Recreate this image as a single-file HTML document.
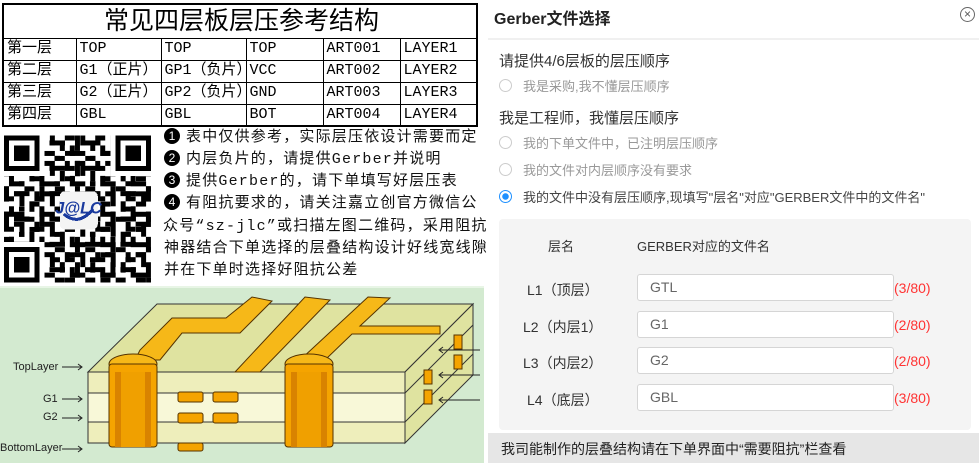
<!DOCTYPE html>
<html><head><meta charset="utf-8"><style>
*{margin:0;padding:0;box-sizing:border-box}
body{width:979px;height:463px;background:#fff;position:relative;overflow:hidden;font-family:"Liberation Sans","Noto Sans CJK SC",sans-serif}
.a{position:absolute;white-space:nowrap}
table{position:absolute;left:2px;top:3px;width:476px;border-collapse:collapse;border:2px solid #000;font-family:"Liberation Mono","Noto Sans CJK SC",monospace;font-size:15px}
td{border:1px solid #000;height:22px;padding-left:3px;line-height:20px}
.note{font-size:15px;color:#111;letter-spacing:1.2px;font-family:"Liberation Mono","Noto Sans CJK SC",monospace}
.ci{display:inline-block;width:16px;height:16px;border-radius:50%;background:#000;color:#fff;font-size:12px;line-height:16px;text-align:center;letter-spacing:0;margin-right:6px;vertical-align:1px;font-family:"Liberation Sans",sans-serif}
.gray{color:#999;font-size:13px}
.rad{position:absolute;width:13px;height:13px;border:1px solid #ccc;border-radius:50%}
.inp{position:absolute;left:637px;width:257px;height:27px;background:#fff;border:1px solid #d5d5d5;border-radius:3px;font-size:14px;color:#666;padding-left:12px;line-height:25px}
.cnt{position:absolute;left:894px;color:#f33;font-size:14px}
.lbl{position:absolute;font-size:14px;color:#333}
</style></head><body>
<table>
<tr><td colspan="6" style="height:34px;text-align:center;font-size:25px;font-family:'Liberation Sans','Noto Sans CJK SC',sans-serif;line-height:30px">常见四层板层压参考结构</td></tr>
<tr><td style="width:73px">第一层</td><td style="width:85px">TOP</td><td style="width:85px">TOP</td><td style="width:77px">TOP</td><td style="width:77px">ART001</td><td>LAYER1</td></tr>
<tr><td>第二层</td><td>G1（正片）</td><td>GP1（负片）</td><td>VCC</td><td>ART002</td><td>LAYER2</td></tr>
<tr><td>第三层</td><td>G2（正片）</td><td>GP2（负片）</td><td>GND</td><td>ART003</td><td>LAYER3</td></tr>
<tr><td>第四层</td><td>GBL</td><td>GBL</td><td>BOT</td><td>ART004</td><td>LAYER4</td></tr>
</table>
<svg class="a" style="left:4px;top:135px" width="147" height="148" viewBox="0 0 29 29" shape-rendering="crispEdges">
<defs><pattern id="q" width="6" height="6" patternUnits="userSpaceOnUse">
<rect x="0" y="0" width="2" height="1"/><rect x="3" y="0" width="1" height="2"/><rect x="5" y="1" width="1" height="2"/><rect x="1" y="2" width="1" height="2"/><rect x="2" y="3" width="2" height="1"/><rect x="4" y="4" width="2" height="1"/><rect x="0" y="5" width="1" height="1"/><rect x="2" y="5" width="2" height="1"/></pattern>
<pattern id="q2" width="7" height="5" patternUnits="userSpaceOnUse"><rect x="0" y="0" width="1" height="3"/><rect x="2" y="1" width="3" height="1"/><rect x="5" y="3" width="2" height="1"/><rect x="3" y="4" width="1" height="1"/></pattern></defs>
<rect width="29" height="29" fill="url(#q)"/><rect width="29" height="29" fill="url(#q2)"/>
<g><rect x="0" y="0" width="8" height="8" fill="#fff"/><rect x="0.5" y="0.5" width="6" height="6" fill="none" stroke="#000"/><rect x="2" y="2" width="3" height="3"/>
<rect x="21" y="0" width="8" height="8" fill="#fff"/><rect x="22.5" y="0.5" width="6" height="6" fill="none" stroke="#000"/><rect x="24" y="2" width="3" height="3"/>
<rect x="0" y="21" width="8" height="8" fill="#fff"/><rect x="0.5" y="22.5" width="6" height="6" fill="none" stroke="#000"/><rect x="2" y="24" width="3" height="3"/></g>
<rect x="11" y="11" width="7.5" height="7.5" rx="1" fill="#f4f4f4"/>
<text x="14.7" y="15.4" font-size="3.2" font-weight="bold" fill="#1a3a9e" text-anchor="middle" font-family="Liberation Sans" font-style="italic">J@LC</text>
<path d="M11.8 15.5 Q14.7 18 17.6 14.5" stroke="#1a3a9e" stroke-width="0.6" fill="none"/>
</svg>
<div class="a note" style="left:164px;top:127px;line-height:22px">
<div><span class="ci">1</span>表中仅供参考，实际层压依设计需要而定</div>
<div><span class="ci">2</span>内层负片的，请提供Gerber并说明</div>
<div><span class="ci">3</span>提供Gerber的，请下单填写好层压表</div>
<div><span class="ci">4</span>有阻抗要求的，请关注嘉立创官方微信公</div>
<div style="margin-left:-1px;line-height:22px;padding-top:1px">众号“sz-jlc”或扫描左图二维码，采用阻抗</div>
<div>神器结合下单选择的层叠结构设计好线宽线隙</div>
<div>并在下单时选择好阻抗公差</div>
</div>
<svg class="a" style="left:0;top:286px" width="484" height="177" viewBox="0 286 484 177">
<rect x="0" y="286" width="484" height="177" fill="#d3ead0"/>
<rect x="0" y="286" width="484" height="2" fill="#e8f5e6"/>
<polygon points="88,372 157,304 473,304 405,372" fill="#dfe3a0" stroke="#333"/>
<polygon points="405,372 473,304 473,375 405,443" fill="#dfe3a0" stroke="#333"/>
<rect x="88" y="372" width="317" height="71" fill="#f8f8d8" stroke="#333"/>
<rect x="88" y="372" width="317" height="21" fill="#eeeebb" stroke="#333"/>
<rect x="88" y="422" width="317" height="21" fill="#eeeebb" stroke="#333"/>
<line x1="405" y1="393" x2="473" y2="325" stroke="#333"/><line x1="405" y1="422" x2="473" y2="354" stroke="#333"/>
<g fill="#f6b818" stroke="#553300" stroke-width="1">
<path d="M135 360 L160 360 L182 333 L240 333 L272 301 L252 297 L226 318 L172 318 L140 350 Z"/>
<path d="M235 372 L260 372 L330 300 L305 297 Z"/>
<path d="M300 360 L325 360 L352 334 L440 334 L440 326 L360 326 L390 298 L368 297 Z"/>
</g>
<g fill="#f5a400" stroke="#553300" stroke-width="1">
<ellipse cx="133" cy="364" rx="24" ry="10" fill="#f6b818"/>
<ellipse cx="309" cy="364" rx="24" ry="10" fill="#f6b818"/>
<rect x="109" y="364" width="48" height="83" rx="3"/>
<rect x="285" y="364" width="48" height="83" rx="3"/>
<rect x="178" y="392" width="25" height="10" rx="2"/><rect x="213" y="392" width="25" height="10" rx="2"/>
<rect x="178" y="413" width="25" height="10" rx="2"/><rect x="213" y="413" width="25" height="10" rx="2"/>
<rect x="178" y="443" width="25" height="8" rx="2"/>
<rect x="424" y="370" width="8" height="14"/><rect x="424" y="390" width="8" height="14"/>
<rect x="454" y="335" width="8" height="14"/><rect x="454" y="355" width="8" height="14"/>
</g>
<rect x="115" y="372" width="36" height="75" fill="#d98300"/>
<rect x="121" y="372" width="24" height="75" fill="#f0a000"/>
<rect x="291" y="372" width="36" height="75" fill="#d98300"/>
<rect x="297" y="372" width="24" height="75" fill="#f0a000"/>
<g font-family="Liberation Sans" font-size="11" fill="#222">
<text x="13" y="370">TopLayer</text><text x="43" y="402">G1</text><text x="43" y="420">G2</text><text x="0" y="451">BottomLayer</text></g>
<g stroke="#222" fill="none"><path d="M62 367h20M78 364l4 3-4 3"/><path d="M62 399h20M78 396l4 3-4 3"/><path d="M62 418h20M78 415l4 3-4 3"/><path d="M62 449h20M78 446l4 3-4 3"/>
<path d="M480 350h-40M443 347l-4 3 4 3"/><path d="M480 375h-40M443 372l-4 3 4 3"/><path d="M480 400h-40M443 397l-4 3 4 3"/></g>
</svg>
<div class="a" style="left:494px;top:5px;font-size:16px;font-weight:bold;color:#222">Gerber文件选择</div>
<div class="a" style="left:960px;top:7px;width:15px;height:15px;border:1px solid #666;border-radius:50%;font-size:12px;line-height:13px;text-align:center;color:#555">×</div>
<div class="a" style="left:488px;top:38px;width:491px;height:2px;background:#f0f0f0"></div>
<div class="a" style="left:499px;top:50px;font-size:15px;color:#333">请提供4/6层板的层压顺序</div>
<div class="rad" style="left:499px;top:79px"></div><div class="a gray" style="left:523px;top:76px">我是采购,我不懂层压顺序</div>
<div class="a" style="left:499px;top:107px;font-size:15px;color:#333">我是工程师，我懂层压顺序</div>
<div class="rad" style="left:499px;top:136px"></div><div class="a gray" style="left:523px;top:133px">我的下单文件中，已注明层压顺序</div>
<div class="rad" style="left:499px;top:163px"></div><div class="a gray" style="left:523px;top:160px">我的文件对内层顺序没有要求</div>
<div class="rad" style="left:499px;top:190px;border-color:#1e90ff;background:radial-gradient(circle,#1e90ff 0 3px,#fff 3.5px)"></div><div class="a" style="left:523px;top:187px;font-size:13px;color:#444">我的文件中没有层压顺序,现填写"层名"对应"GERBER文件中的文件名"</div>
<div class="a" style="left:499px;top:219px;width:472px;height:211px;background:#f4f4f4;border-radius:4px"></div>
<div class="lbl" style="left:548px;top:236px;font-size:13px">层名</div>
<div class="lbl" style="left:637px;top:236px;font-size:13px">GERBER对应的文件名</div>
<div class="lbl" style="left:527px;top:280px">L1（顶层）</div><div class="inp" style="top:274px">GTL</div><div class="cnt" style="top:280px">(3/80)</div>
<div class="lbl" style="left:523px;top:317px">L2（内层1）</div><div class="inp" style="top:311px">G1</div><div class="cnt" style="top:317px">(2/80)</div>
<div class="lbl" style="left:523px;top:353px">L3（内层2）</div><div class="inp" style="top:347px">G2</div><div class="cnt" style="top:353px">(2/80)</div>
<div class="lbl" style="left:527px;top:390px">L4（底层）</div><div class="inp" style="top:384px">GBL</div><div class="cnt" style="top:390px">(3/80)</div>
<div class="a" style="left:488px;top:433px;width:491px;height:30px;background:#e6e6e6"></div>
<div class="a" style="left:501px;top:439px;font-size:14px;color:#222">我司能制作的层叠结构请在下单界面中“需要阻抗”栏查看</div>
</body></html>
